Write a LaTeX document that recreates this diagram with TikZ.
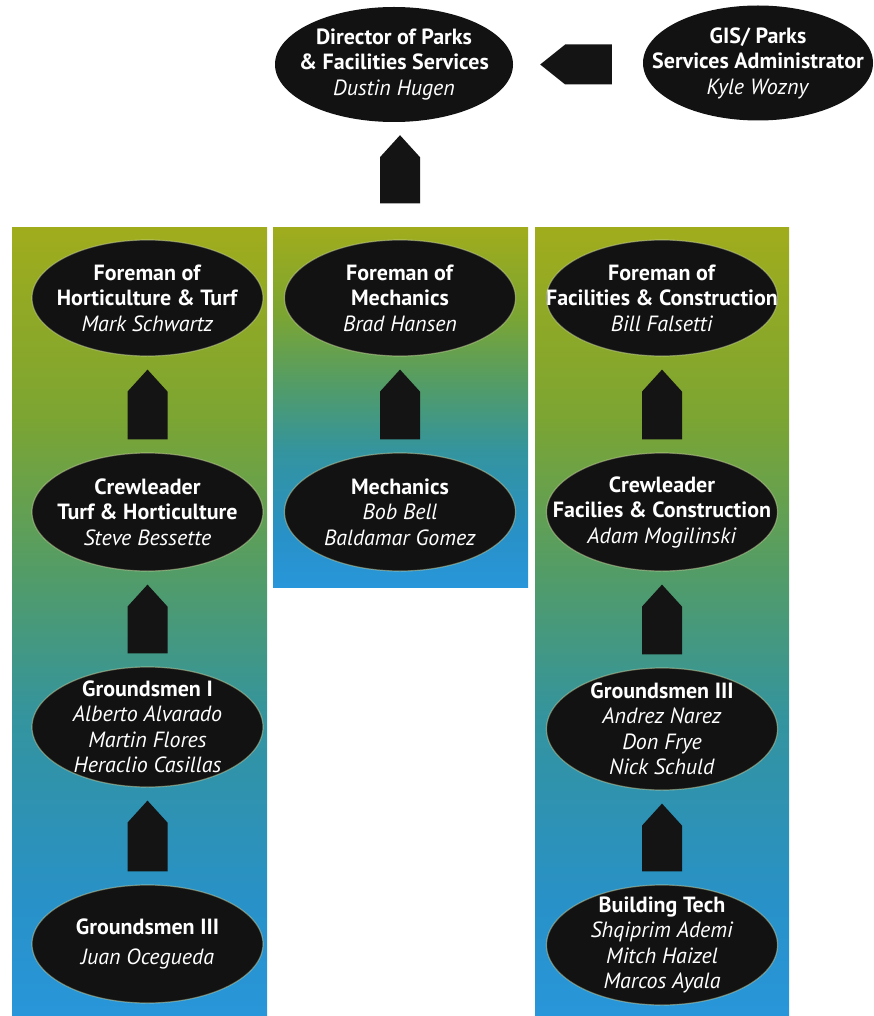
\documentclass[tikz,border=0pt]{standalone}
\usepackage{fontspec}
\setmainfont{PT Sans}
\usetikzlibrary{shapes.geometric,calc}

% colours
\definecolor{ovalfill}{RGB}{18,18,18}
\definecolor{linkfill}{RGB}{20,20,20}
\definecolor{rim}{RGB}{215,225,170}
\definecolor{pnA}{RGB}{40,150,218}
\definecolor{pnB}{RGB}{40,145,200}
\definecolor{pnC}{RGB}{52,148,158}
\definecolor{pnD}{RGB}{82,156,104}
\definecolor{pnE}{RGB}{124,165,50}
\definecolor{pnF}{RGB}{160,172,28}

% green-to-blue panel background (bottom to top)
\pgfdeclareverticalshading{panelshade}{100bp}{%
  color(0bp)=(pnA); color(25bp)=(pnA); color(32bp)=(pnB);
  color(44bp)=(pnC); color(53bp)=(pnD); color(63bp)=(pnE);
  color(75bp)=(pnF); color(100bp)=(pnF)}

\tikzset{
  panel/.style={shading=panelshade, draw=none},
  oval/.style={ellipse, fill=ovalfill, inner sep=0pt,
    minimum width=#1},
  oval/.default=231pt,
  rimmed/.style={draw=rim, draw opacity=0.45, line width=1.2pt},
  label text/.style={text=white, align=center, inner sep=0pt,
    font=\fontsize{22}{25.5}\selectfont},
  linkshape/.style={fill=linkfill},
}
\newcommand{\ttl}[1]{\textbf{#1}}
\newcommand{\who}[1]{\textit{#1}}

% upward block arrow from node #1 (below) to node #2 (above);
% #3 = gap under the upper node, #4 = gap above the lower node
\newcommand{\houseup}[4]{%
  \path[linkshape] let \p1=(#1.north), \p2=(#2.south) in
    (\x1,\y2-#3) -- (\x1+20pt,\y2-#3-22pt) -- (\x1+20pt,\y1+#4)
    -- (\x1-20pt,\y1+#4) -- (\x1-20pt,\y2-#3-22pt) -- cycle;}

\begin{document}
\begin{tikzpicture}[x=1pt,y=-1pt]
\useasboundingbox (0,0) rectangle (873,1016);
\fill[white] (0,0) rectangle (873,1016);

% background panels
\path[panel] (12,228) rectangle (267,1016);
\path[panel] (273,228) rectangle (528,587);
\path[panel] (535,228) rectangle (789,1016);

% top row
\node[oval=238pt, minimum height=115pt] (dir) at (394,64.5) {};
\node[label text] (dir-t) at (dir)
  {\ttl{Director of Parks}\\\ttl{\& Facilities Services}\\\who{Dustin Hugen}};
\node[oval=230pt, minimum height=115pt] (gis) at (758,63) {};
\node[label text] (gis-t) at (gis)
  {\ttl{GIS/ Parks}\\\ttl{Services Administrator}\\\who{Kyle Wozny}};

% left column
\node[oval, rimmed, minimum height=116pt] (fht) at (147.5,298) {};
\node[label text] (fht-t) at (fht)
  {\ttl{Foreman of}\\\ttl{Horticulture \& Turf}\\\who{Mark Schwartz}};
\node[oval, rimmed, minimum height=118pt] (cth) at (147.5,512) {};
\node[label text] (cth-t) at (cth)
  {\ttl{Crewleader}\\\ttl{Turf \& Horticulture}\\\who{Steve Bessette}};
\node[oval, rimmed, minimum height=120pt] (g1) at (147.5,727) {};
\node[label text] (g1-t) at (g1)
  {\ttl{Groundsmen I}\\\who{Alberto Alvarado}\\\who{Martin Flores}\\\who{Heraclio Casillas}};
\node[oval, rimmed, minimum height=118pt] (g3l) at (147.5,944) {};
\node[label text, font=\fontsize{22}{30}\selectfont] (g3l-t) at (g3l)
  {\ttl{Groundsmen III}\\\who{Juan Ocegueda}};

% middle column
\node[oval, rimmed, minimum height=116pt] (fme) at (400,298) {};
\node[label text] (fme-t) at (fme)
  {\ttl{Foreman of}\\\ttl{Mechanics}\\\who{Brad Hansen}};
\node[oval, rimmed, minimum height=118pt] (mec) at (400,512) {};
\node[label text] (mec-t) at (mec)
  {\ttl{Mechanics}\\\who{Bob Bell}\\\who{Baldamar Gomez}};

% right column
\node[oval, rimmed, minimum height=116pt] (ffc) at (662,298) {};
\node[label text] (ffc-t) at (ffc)
  {\ttl{Foreman of}\\\ttl{Facilities \& Construction}\\\who{Bill Falsetti}};
\node[oval, rimmed, minimum height=118pt] (cfc) at (662,512) {};
\node[label text] (cfc-t) at (cfc)
  {\ttl{Crewleader}\\\ttl{Facilies \& Construction}\\\who{Adam Mogilinski}};
\node[oval, rimmed, minimum height=122pt] (g3r) at (662,729) {};
\node[label text] (g3r-t) at (g3r)
  {\ttl{Groundsmen III}\\\who{Andrez Narez}\\\who{Don Frye}\\\who{Nick Schuld}};
\node[oval, rimmed, minimum height=120pt] (bt) at (662,945) {};
\node[label text] (bt-t) at (bt)
  {\ttl{Building Tech}\\\who{Shqiprim Ademi}\\\who{Mitch Haizel}\\\who{Marcos Ayala}};

% reporting links
\houseup{fme}{dir}{13pt}{36pt}
\houseup{cth}{fht}{13pt}{13pt}
\houseup{g1}{cth}{13pt}{13pt}
\houseup{g3l}{g1}{13pt}{13pt}
\houseup{mec}{fme}{13pt}{13pt}
\houseup{cfc}{ffc}{13pt}{13pt}
\houseup{g3r}{cfc}{13pt}{13pt}
\houseup{bt}{g3r}{13pt}{13pt}

% side link from the administrator to the director
\path[linkshape] let \p1=(gis.west), \p2=(dir.east) in
  (\x2+27pt,\y2) -- (\x2+52pt,\y2+20pt) -- (\x1-31pt,\y2+20pt)
  -- (\x1-31pt,\y2-20pt) -- (\x2+52pt,\y2-20pt) -- cycle;
\end{tikzpicture}
\end{document}
